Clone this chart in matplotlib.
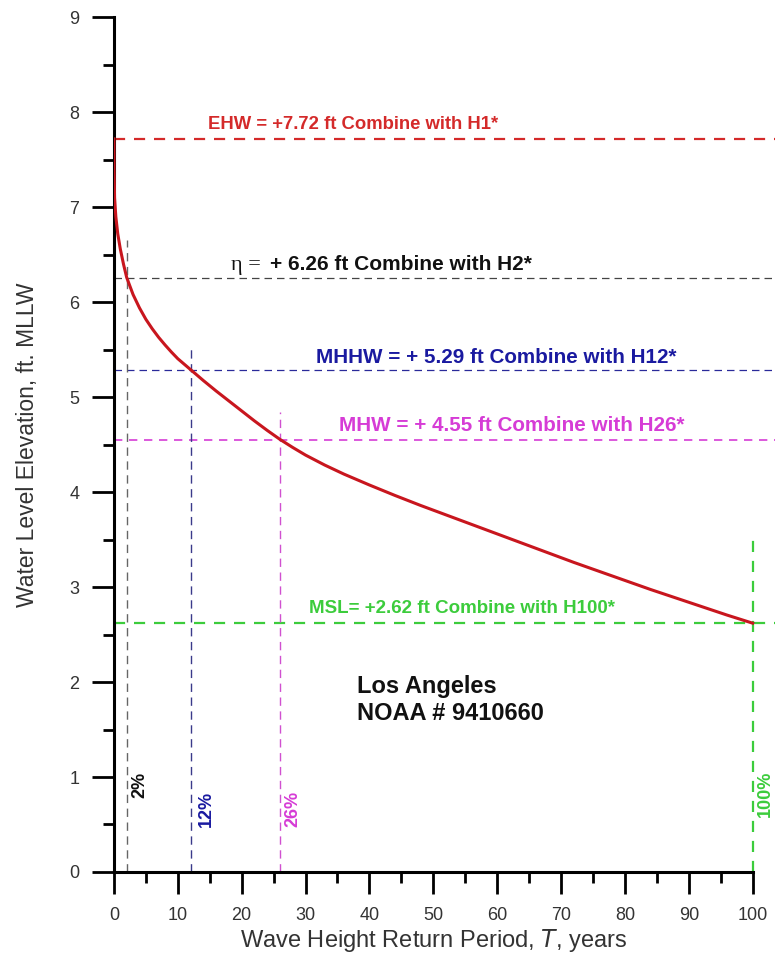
import matplotlib
matplotlib.use("Agg")
import matplotlib.pyplot as plt
import numpy as np

plt.rcParams['font.family'] = ['Liberation Sans', 'DejaVu Sans']

# Return period curve (years, ft MLLW)
period = [0, 0.02, 0.1, 0.3, 0.6, 1.0, 1.5, 2, 3, 4, 5, 6, 7, 8, 9, 10, 12, 14, 16, 18, 20,
          22, 24, 26, 28, 30, 33, 36, 40, 44, 48, 52, 56, 60, 64, 68, 72, 76, 80, 84,
          88, 92, 96, 100]
elev = [7.72, 7.40, 7.10, 6.90, 6.72, 6.56, 6.40, 6.26, 6.08, 5.94, 5.82, 5.72, 5.63, 5.55,
        5.475, 5.405, 5.29, 5.175, 5.065, 4.96, 4.855, 4.75, 4.65, 4.555, 4.47, 4.39, 4.285,
        4.19, 4.075, 3.965, 3.86, 3.76, 3.66, 3.56, 3.46, 3.36, 3.26, 3.165, 3.07, 2.975,
        2.885, 2.795, 2.705, 2.62]

# Reference levels
level_values = [7.72, 6.26, 5.29, 4.55, 2.62]
level_labels = ["EHW = +7.72 ft Combine with H1*",
                "+ 6.26 ft Combine with H2*",
                "MHHW = + 5.29 ft Combine with H12*",
                "MHW = + 4.55 ft Combine with H26*",
                "MSL= +2.62 ft Combine with H100*"]
# vertical markers
vert_x = [2, 12, 26, 100]
vert_top = [6.65, 5.55, 4.84, 3.5]
vert_labels = ["2%", "12%", "26%", "100%"]

fig = plt.figure(figsize=(7.75, 9.56), dpi=100)
ax = fig.add_axes([0.147, 0.0879, 0.853, 0.894])

x_end = 103.5
ax.set_xlim(0, x_end)
ax.set_ylim(0, 9)

# horizontal levels
hcol = ['#d42a2a', '#444444', '#2a2a9a', '#d63cd6', '#3ccc3c']
hlw = [1.6, 0.9, 0.9, 1.2, 1.6]
hdash = [(5, 4), (6, 4), (6, 4), (5, 4), (5, 4)]
for v, c, lw, d in zip(level_values, hcol, hlw, hdash):
    ax.plot([0, x_end], [v, v], color=c, lw=lw, dashes=d, zorder=2)

# vertical markers
vcol = ['#666666', '#3a3a8a', '#d050d0', '#3ccc3c']
vlw = [1.0, 1.0, 1.0, 1.6]
vdash = [(6, 4), (6, 4), (6, 4), (5, 4)]
for xv, top, c, lw, d in zip(vert_x, vert_top, vcol, vlw, vdash):
    ax.plot([xv, xv], [0, top], color=c, lw=lw, dashes=d, zorder=2)

# curve
ax.plot(period, elev, color='#c8161e', lw=2.2, zorder=4, solid_joinstyle='round')

# level texts
ax.text(14.7, 7.82, level_labels[0], color='#d42a2a', fontsize=13.3, fontweight='bold',
        ha='left', va='baseline')
ax.text(18.4, 6.34, "\u03b7 = ", color='#111111', fontsize=16, ha='left', va='baseline',
        family=['Liberation Serif', 'DejaVu Serif'])
ax.text(24.5, 6.34, level_labels[1], color='#111111', fontsize=15,
        fontweight='bold', ha='left', va='baseline')
ax.text(31.6, 5.36, level_labels[2], color='#1a1aa0', fontsize=14.9, fontweight='bold',
        ha='left', va='baseline')
ax.text(35.3, 4.64, level_labels[3], color='#d63cd6', fontsize=14.9, fontweight='bold',
        ha='left', va='baseline')
ax.text(30.6, 2.73, level_labels[4], color='#3ccc3c', fontsize=13.5, fontweight='bold',
        ha='left', va='baseline')

# vertical labels
pcol = ['#111111', '#1a1aa0', '#d63cd6', '#3ccc3c']
ppos = [(4.1, 0.92), (14.4, 0.66), (28.0, 0.66), (102.0, 0.82)]
for (px, py), lab, c in zip(ppos, vert_labels, pcol):
    ax.text(px, py, lab, rotation=90, color=c, fontsize=13, fontweight='bold',
            ha='center', va='center')

ax.text(38.1, 1.88, "Los Angeles", fontsize=17, fontweight='bold', color='#111111',
        ha='left', va='baseline')
ax.text(38.1, 1.60, "NOAA # 9410660", fontsize=17, fontweight='bold', color='#111111',
        ha='left', va='baseline')

# axes styling
for s in ['top', 'right']:
    ax.spines[s].set_visible(False)
for s in ['left', 'bottom']:
    ax.spines[s].set_linewidth(2.2)
ax.spines['bottom'].set_bounds(0, 100)
ax.set_xticks(np.arange(0, 101, 10))
ax.set_xticks(np.arange(5, 100, 10), minor=True)
ax.set_yticks(np.arange(0, 10, 1))
ax.set_yticks(np.arange(0.5, 9, 1), minor=True)
ax.tick_params(which='major', direction='out', length=16, width=2.0, labelsize=13,
               labelcolor='#333333', pad=9)
ax.tick_params(which='minor', direction='out', length=8, width=2.0)

ax.set_xlabel("Wave Height Return Period, $\\it{T}$, years", fontsize=17, color='#333333',
              labelpad=3)
ax.xaxis.set_label_coords(50 / x_end, -0.064)
ax.set_ylabel("Water Level Elevation, ft. MLLW", fontsize=16.5, color='#333333', labelpad=22)

fig.savefig("out.png", dpi=100)
